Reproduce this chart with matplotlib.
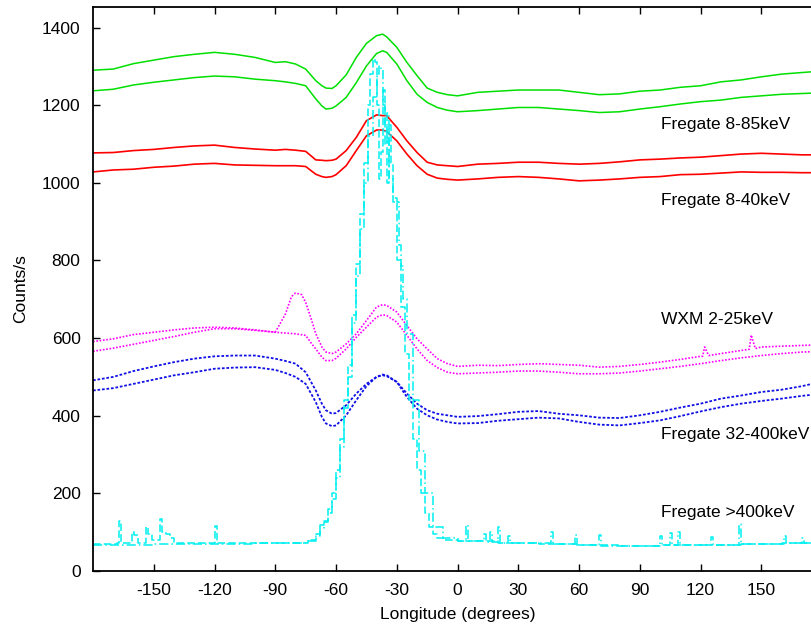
import matplotlib
matplotlib.use("Agg")
import matplotlib.pyplot as plt

plt.rcParams['font.family'] = ['Liberation Sans', 'DejaVu Sans']
plt.rcParams['axes.unicode_minus'] = False

# longitude grid shared by the Fregate 8-85, 8-40 and 32-400 keV curves
lon_main = [-180, -170, -160, -150, -140, -130, -120, -110, -100, -90,
            -85, -80, -75, -70, -67, -65, -62, -60, -55, -50, -45, -40, -37, -35,
            -30, -25, -20, -15, -10, -5, 0,
            10, 20, 30, 40, 50, 60, 70, 80, 90, 100, 110, 120, 130, 140, 150, 160, 170, 180]

g85_hi = [1290, 1293, 1307, 1316, 1325, 1331, 1336, 1331, 1323, 1310,
          1312, 1306, 1293, 1263, 1250, 1244, 1243, 1250, 1278, 1323, 1359, 1379, 1383, 1376,
          1349, 1310, 1276, 1244, 1233, 1227, 1224,
          1233, 1236, 1239, 1239, 1239, 1233, 1227, 1229, 1236, 1239, 1246, 1250, 1260, 1265, 1273, 1280, 1284, 1288]
g85_lo = [1237, 1241, 1252, 1259, 1265, 1271, 1275, 1273, 1267, 1263,
          1260, 1256, 1250, 1216, 1198, 1190, 1192, 1198, 1220, 1258, 1301, 1333, 1340, 1336,
          1306, 1263, 1228, 1207, 1194, 1187, 1183,
          1186, 1190, 1194, 1194, 1190, 1186, 1181, 1183, 1190, 1196, 1203, 1209, 1213, 1220, 1224, 1228, 1230, 1232]

r40_hi = [1077, 1078, 1083, 1086, 1091, 1095, 1097, 1091, 1087, 1084,
          1086, 1084, 1081, 1059, 1058, 1057, 1058, 1061, 1083, 1117, 1160, 1175, 1173, 1173,
          1143, 1108, 1078, 1053, 1046, 1044, 1042,
          1048, 1050, 1053, 1053, 1050, 1048, 1050, 1054, 1059, 1061, 1064, 1066, 1070, 1074, 1076, 1074, 1072, 1072]
r40_lo = [1028, 1033, 1035, 1040, 1043, 1048, 1050, 1046, 1045, 1044,
          1044, 1044, 1042, 1022, 1016, 1014, 1016, 1021, 1044, 1083, 1121, 1136, 1136, 1132,
          1108, 1074, 1044, 1022, 1012, 1009, 1007,
          1010, 1014, 1016, 1014, 1010, 1005, 1007, 1010, 1014, 1016, 1021, 1022, 1025, 1028, 1027, 1027, 1026, 1026]

b400_hi = [491, 500, 515, 527, 538, 547, 553, 555, 555, 547,
           541, 534, 512, 465, 431, 414, 405, 407, 427, 457, 482, 500, 504, 502,
           487, 457, 431, 414, 405, 401, 397,
           399, 404, 410, 412, 405, 401, 395, 394, 401, 410, 421, 431, 444, 452, 461, 467, 476, 488]
b400_lo = [465, 471, 482, 493, 504, 512, 521, 524, 525, 518,
           510, 500, 482, 435, 397, 380, 373, 375, 401, 440, 476, 500, 506, 504,
           487, 448, 418, 401, 390, 384, 380,
           381, 387, 391, 395, 393, 384, 377, 375, 381, 388, 399, 411, 422, 431, 438, 444, 451, 457]

# WXM 2-25 keV
lon_wxm_hi = [-180, -170, -160, -150, -140, -130, -120, -110, -100, -90,
              -85, -82, -80, -77, -75, -72, -70, -67, -65, -62, -60, -55, -50, -45, -40, -37, -35,
              -30, -25, -20, -15, -10, -5, 0,
              10, 20, 30, 40, 50, 60, 70, 80, 90, 100, 110, 120, 121, 122, 124,
              130, 140, 144, 145, 147, 150, 160, 170, 180]
wxm_hi = [591, 598, 609, 615, 621, 626, 628, 626, 621, 615,
          662, 707, 716, 712, 692, 645, 611, 577, 564, 560, 564, 585, 611, 645, 680, 686, 684,
          667, 632, 598, 572, 547, 534, 527,
          530, 529, 532, 534, 532, 530, 525, 527, 532, 538, 545, 553, 553, 577, 555,
          560, 568, 571, 608, 573, 577, 579, 581, 583]
lon_wxm_lo = [-180, -170, -160, -150, -140, -130, -120, -110, -100, -90,
              -85, -80, -75, -72, -70, -67, -65, -62, -60, -55, -50, -45, -40, -37, -35,
              -30, -25, -20, -15, -10, -5, 0,
              10, 20, 30, 40, 50, 60, 70, 80, 90, 100, 110, 120, 130, 140, 150, 160, 170, 180]
wxm_lo = [566, 574, 584, 594, 604, 615, 624, 624, 620, 615,
          613, 611, 607, 585, 572, 551, 542, 542, 548, 572, 602, 628, 654, 660, 658,
          641, 607, 572, 542, 524, 512, 508,
          510, 512, 515, 515, 512, 508, 508, 510, 515, 521, 527, 534, 542, 549, 555, 560, 564, 566]

# Fregate >400 keV (two passes)
lon_hx_a = [-180, -168, -167, -166, -161, -160, -158, -154, -153, -151, -147, -146, -144, -142, -140,
            -121, -120, -119, -100, -80, -74, -70, -68, -66, -64, -62, -60, -58, -56, -54, -52, -50,
            -48, -46, -44, -43, -42, -41, -40, -39, -38, -37, -36, -35, -34, -33, -32, -30, -28,
            -26, -24, -22, -20, -18, -16, -14, -12, -10, -7, 0, 20, 40, 60, 80, 100, 120, 140, 160, 180]
hx_a = [70, 72, 130, 72, 100, 92, 72, 112, 95, 80, 135, 100, 95, 85, 72,
        71, 116, 72, 72, 73, 80, 95, 118, 130, 160, 200, 260, 340, 440, 530, 660, 790,
        920, 1050, 1200, 1280, 1320, 1310, 1200, 1010, 1080, 1240, 1150, 1000, 1150, 1050, 950, 800, 680,
        560, 440, 340, 260, 200, 150, 114, 95, 86, 80, 77, 73, 70, 66, 64, 66, 68, 70, 71, 72]
lon_hx_b = [-180, -150, -120, -100, -80, -74, -70, -68, -66, -64, -62, -60, -58, -56, -54, -52, -50,
            -48, -46, -44, -42, -40, -39, -38, -37, -36, -35, -34, -32, -30, -29, -28, -27, -25,
            -22, -19, -16, -12, -7, 0, 4, 5, 13, 14, 16, 17, 20, 21, 25, 26, 46, 47, 58, 59,
            70, 71, 100, 101, 105, 106, 109, 110, 125, 126, 139, 140, 161, 162, 170, 171, 180]
hx_b = [68, 69, 70, 71, 72, 78, 90, 110, 125, 150, 185, 240, 320, 420, 500, 640, 760,
        880, 1000, 1120, 1220, 1280, 1300, 1290, 1200, 1100, 1180, 1010, 960, 950, 840, 785, 700, 610,
        440, 310, 200, 114, 84, 78, 118, 76, 95, 74, 101, 74, 112, 73, 90, 72, 101, 70, 93, 67,
        93, 65, 90, 66, 97, 66, 101, 67, 88, 68, 121, 70, 90, 71, 84, 71, 72]

labels = ['Fregate 8-85keV', 'Fregate 8-40keV', 'WXM 2-25keV', 'Fregate 32-400keV', 'Fregate >400keV']
label_y = [1150, 954, 647, 351, 150]

fig = plt.figure(figsize=(8.11, 6.26), dpi=100)
ax = fig.add_axes([0.1147, 0.0879, 0.899, 0.901])

green = '#00e000'
red = '#ff0000'
mag = '#ff00ff'
blue = '#1010e6'
cyan = '#00f0f0'

ax.plot(lon_main, g85_hi, color=green, lw=1.1)
ax.plot(lon_main, g85_lo, color=green, lw=1.1)
ax.plot(lon_main, r40_hi, color=red, lw=1.2)
ax.plot(lon_main, r40_lo, color=red, lw=1.2)
ax.plot(lon_wxm_hi, wxm_hi, color=mag, lw=1.2, ls=(0, (1, 1)))
ax.plot(lon_wxm_lo, wxm_lo, color=mag, lw=1.2, ls=(0, (1, 1)))
ax.plot(lon_main, b400_hi, color=blue, lw=1.3, ls=(0, (1.5, 1)))
ax.plot(lon_main, b400_lo, color=blue, lw=1.3, ls=(0, (1.5, 1)))
ax.plot(lon_hx_a, hx_a, color=cyan, lw=1.1, ls=(0, (5, 2)), drawstyle='steps-post')
ax.plot(lon_hx_b, hx_b, color=cyan, lw=1.1, ls=(0, (6, 2, 1, 2)), drawstyle='steps-post')

for txt, yy in zip(labels, label_y):
    ax.text(100.5, yy, txt, fontsize=12.5, ha='left', va='center')

ax.set_xlim(-180, 180)
ax.set_ylim(0, 1453)
ax.set_xticks([-150, -120, -90, -60, -30, 0, 30, 60, 90, 120, 150])
ax.set_yticks([0, 200, 400, 600, 800, 1000, 1200, 1400])
ax.tick_params(direction='in', top=True, right=True, length=5, width=1, labelsize=12.5)
ax.tick_params(axis='x', pad=9)
ax.tick_params(axis='y', pad=9)
for s in ax.spines.values():
    s.set_linewidth(1.3)
ax.set_xlabel('Longitude (degrees)', fontsize=12.5, labelpad=6)
ax.set_ylabel('Counts/s', fontsize=12.5, labelpad=10)

fig.savefig('out.png', dpi=100)
